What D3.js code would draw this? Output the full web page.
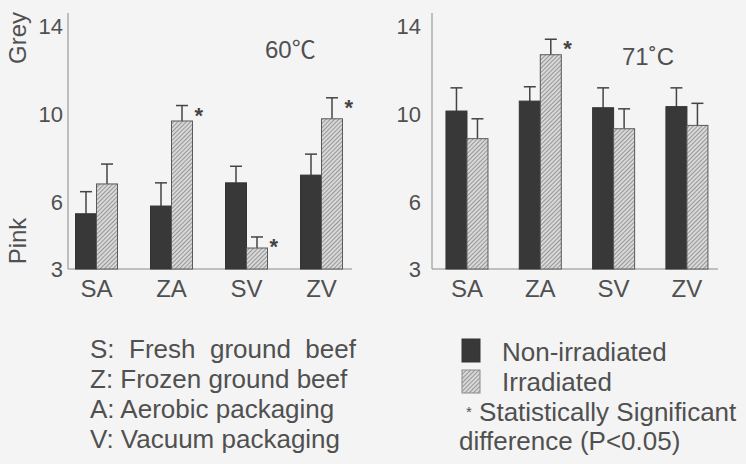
<!DOCTYPE html>
<html>
<head>
<meta charset="utf-8">
<script src="https://cdn.jsdelivr.net/npm/d3@7"></script>
<style>
  html, body { margin: 0; padding: 0; background: #f4f4f4; }
  svg { display: block; }
  svg text { font-family: "Liberation Sans", Arial, Helvetica, sans-serif !important; }
  svg text.cjk { font-family: "Liberation Sans", "Noto Sans CJK SC", sans-serif !important; }
</style>
</head>
<body>
<svg id="chart" width="746" height="464"></svg>
<script>
// Colour score of cooked ground beef (low = pink, high = grey)
const categories = ["SA", "ZA", "SV", "ZV"];
const series = ["Non-irradiated", "Irradiated"];
const yTicks = [3, 6, 10, 14];

// 60 °C end-point temperature
const nonIrr60 = [5.5, 5.85, 6.9, 7.25];
const nonIrr60Err = [1.0, 1.05, 0.75, 0.95];
const irr60 = [6.85, 9.7, 3.95, 9.8];
const irr60Err = [0.9, 0.7, 0.5, 0.95];
const sig60 = [false, true, true, true];

// 71 °C end-point temperature
const nonIrr71 = [10.15, 10.6, 10.3, 10.35];
const nonIrr71Err = [1.05, 0.65, 0.9, 0.85];
const irr71 = [8.9, 12.7, 9.35, 9.5];
const irr71Err = [0.9, 0.7, 0.9, 1.0];
const sig71 = [false, true, false, false];

const legendNotes = [
  "S:  Fresh  ground  beef",
  "Z: Frozen ground beef",
  "A: Aerobic packaging",
  "V: Vacuum packaging"
];

const svg = d3.select("#chart");
const ink = "#505050";
const darkFill = "#383838";

// hatched fill for irradiated bars
const defs = svg.append("defs");
const pat = defs.append("pattern")
  .attr("id", "hatch")
  .attr("patternUnits", "userSpaceOnUse")
  .attr("width", 3).attr("height", 3)
  .attr("patternTransform", "rotate(45)");
pat.append("rect").attr("width", 3).attr("height", 3).attr("fill", "#d8d8d8");
pat.append("line").attr("x1", 0.5).attr("y1", 0).attr("x2", 0.5).attr("y2", 3)
  .attr("stroke", "#909090").attr("stroke-width", 0.9);

const y = d3.scaleLinear().domain([3, 14]).range([269, 26]);

function panel(opts) {
  const g = svg.append("g");
  const x0 = d3.scaleBand().domain(categories)
    .range(opts.range).paddingInner(opts.padIn).paddingOuter(opts.padOut);
  const x1 = d3.scaleBand().domain(series).range([0, x0.bandwidth()]);

  // y axis (no tick marks), line drawn up past the top tick
  const ya = g.append("g").attr("transform", `translate(${opts.axisX},0)`)
    .call(d3.axisLeft(y).tickValues(yTicks).tickSize(0).tickPadding(opts.tickPad));
  ya.attr("font-family", null);
  ya.select(".domain").remove();
  ya.selectAll("text").style("font-size", "22px").attr("fill", ink);
  g.append("line").attr("x1", opts.axisX).attr("x2", opts.axisX)
    .attr("y1", y(3)).attr("y2", 13).attr("stroke", "#8a8a8a").attr("stroke-width", 1);

  // x axis
  const xa = g.append("g").attr("transform", `translate(0,${y(3)})`)
    .call(d3.axisBottom(x0).tickSize(0).tickPadding(11));
  xa.attr("font-family", null);
  xa.select(".domain").remove();
  xa.selectAll("text").style("font-size", "24px").attr("fill", ink);
  g.append("line").attr("x1", opts.axisX).attr("x2", opts.axisEnd)
    .attr("y1", y(3)).attr("y2", y(3)).attr("stroke", "#8a8a8a").attr("stroke-width", 1);

  const rows = categories.map((c, i) => ({
    c,
    bars: [
      { s: series[0], v: opts.non[i], e: opts.nonErr[i], sig: false },
      { s: series[1], v: opts.irr[i], e: opts.irrErr[i], sig: opts.sig[i] }
    ]
  }));

  const grp = g.selectAll("g.grp").data(rows).join("g")
    .attr("class", "grp")
    .attr("transform", d => `translate(${x0(d.c)},0)`);

  const bar = grp.selectAll("g.bar").data(d => d.bars).join("g").attr("class", "bar");

  // error bars (upper half only)
  bar.append("line")
    .attr("x1", d => x1(d.s) + x1.bandwidth() / 2)
    .attr("x2", d => x1(d.s) + x1.bandwidth() / 2)
    .attr("y1", d => y(d.v)).attr("y2", d => y(d.v + d.e))
    .attr("stroke", "#444").attr("stroke-width", 1.5);
  bar.append("line")
    .attr("x1", d => x1(d.s) + x1.bandwidth() / 2 - 6)
    .attr("x2", d => x1(d.s) + x1.bandwidth() / 2 + 6)
    .attr("y1", d => y(d.v + d.e)).attr("y2", d => y(d.v + d.e))
    .attr("stroke", "#444").attr("stroke-width", 1.5);

  bar.append("rect")
    .attr("x", d => x1(d.s))
    .attr("width", x1.bandwidth())
    .attr("y", d => y(d.v))
    .attr("height", d => y(3) - y(d.v))
    .attr("fill", d => d.s === series[0] ? darkFill : "url(#hatch)")
    .attr("stroke", d => d.s === series[0] ? "#333" : "#5a5a5a")
    .attr("stroke-width", 1);

  // significance markers
  bar.filter(d => d.sig).append("text")
    .attr("x", d => x1(d.s) + x1.bandwidth() + 2)
    .attr("y", d => y(d.v + d.e) + 17)
    .attr("font-size", 22).attr("font-weight", "bold").attr("fill", "#444")
    .text("*");

  g.append("text").attr("class", "cjk")
    .attr("x", opts.title.x).attr("y", opts.title.y)
    .attr("font-size", 24).attr("fill", ink)
    .text(opts.title.text);
}

panel({
  range: [59, 359], padIn: 0.44, padOut: 0.22, axisX: 68, axisEnd: 352, tickPad: 5,
  non: nonIrr60, nonErr: nonIrr60Err, irr: irr60, irrErr: irr60Err, sig: sig60,
  title: { text: "60\u2103", x: 265, y: 58 }
});
panel({
  range: [431.3, 722.6], padIn: 0.427, padOut: 0.2, axisX: 432, axisEnd: 718, tickPad: 11,
  non: nonIrr71, nonErr: nonIrr71Err, irr: irr71, irrErr: irr71Err, sig: sig71,
  title: { text: "71\u02DAC", x: 622, y: 65 }
});

// scale end labels
svg.append("text").attr("transform", "translate(26,38) rotate(-90)")
  .attr("text-anchor", "middle").attr("font-size", 24).attr("fill", ink).text("Grey");
svg.append("text").attr("transform", "translate(26,241) rotate(-90)")
  .attr("text-anchor", "middle").attr("font-size", 24).attr("fill", ink).text("Pink");

// key to sample codes
svg.append("g").selectAll("text").data(legendNotes).join("text")
  .attr("x", 90).attr("y", (d, i) => 358 + i * 30)
  .attr("font-size", 26).attr("fill", ink)
  .style("white-space", "pre")
  .text(d => d);

// series key
const key = svg.append("g");
key.selectAll("rect").data(series).join("rect")
  .attr("x", 462).attr("y", (d, i) => 339 + i * 31)
  .attr("width", 18).attr("height", 23)
  .attr("fill", (d, i) => i === 0 ? darkFill : "url(#hatch)")
  .attr("stroke", (d, i) => i === 0 ? "#333" : "#8a8a8a");
key.selectAll("text.s").data(series).join("text").attr("class", "s")
  .attr("x", 502).attr("y", (d, i) => 361 + i * 30)
  .attr("font-size", 26).attr("fill", ink).text(d => d);

const note = key.append("text").attr("x", 466).attr("y", 421)
  .attr("font-size", 26).attr("fill", ink);
note.append("tspan").attr("font-size", 15).attr("dy", -4).text("*");
note.append("tspan").attr("dy", 4).text(" Statistically Significant");
key.append("text").attr("x", 459).attr("y", 450)
  .attr("font-size", 26).attr("fill", ink).text("difference (P<0.05)");
</script>
</body>
</html>
